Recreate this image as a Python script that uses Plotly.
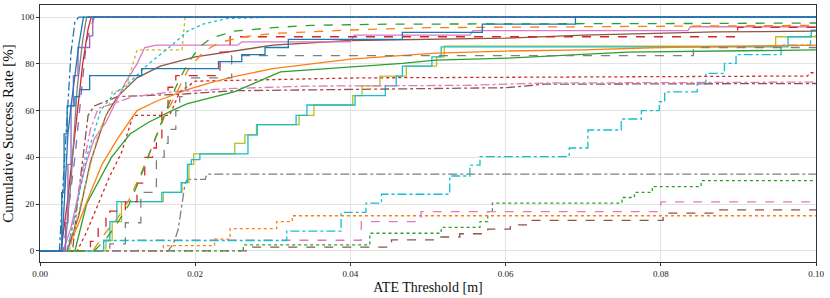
import plotly.graph_objects as go

# ---------------- data ----------------
blue_a_x = [0, 0.0028, 0.0032, 0.0036, 0.0040, 0.0045, 0.0050, 0.0056, 0.1]
blue_a_y = [0, 0, 25, 50, 62, 75, 88, 100, 100]

blue_b_x = [0, 0.0026, 0.0028, 0.0031, 0.0035, 0.0045, 0.0051, 0.0064, 0.0131, 0.023, 0.026, 0.029, 0.032, 0.0467, 0.057, 0.069, 0.1]
blue_b_y = [0, 0, 25, 50, 62, 66, 69, 75, 78, 81, 84, 87, 90.5, 93.5, 97, 100, 100]

blue_dd_x = [0, 0.0025, 0.0030, 0.0035, 0.0040, 0.0045, 0.0050, 0.1]
blue_dd_y = [0, 0, 30, 60, 85, 98, 100, 100]

purple_x = [0, 0.0030, 0.0033, 0.0036, 0.0040, 0.0043, 0.0049, 0.0064, 0.0068, 0.1]
purple_y = [0, 0, 12, 37, 62, 75, 87, 92, 100, 100]

purple_d_x = [0, 0.0030, 0.0045, 0.0060, 0.0070, 0.1]
purple_d_y = [0, 0, 40, 90, 100, 100]

gray_x = [0, 0.0032, 0.0040, 0.0048, 0.0055, 0.0060, 0.1]
gray_y = [0, 0, 30, 70, 90, 100, 100]

red_x = [0, 0.0027, 0.0035, 0.0045, 0.0055, 0.0062, 0.0066, 0.1]
red_y = [0, 0, 20, 50, 80, 95, 100, 100]

cyan_dot_x = [0, 0.0035, 0.0048, 0.0060, 0.0078, 0.0095, 0.0115, 0.0140, 0.0170, 0.0190, 0.0210, 0.0240, 0.0300, 0.1]
cyan_dot_y = [0, 0, 20, 40, 60, 67, 72, 80, 88, 94, 97, 99.4, 100, 100]

olive_dot_x = [0, 0.0038, 0.0045, 0.0060, 0.0075, 0.0088, 0.0093, 0.0110, 0.0125, 0.0183, 0.0187, 0.1]
olive_dot_y = [0, 0, 10, 30, 50, 60, 68, 69, 86, 86, 100, 100]

green_da_x = [0, 0.0070, 0.0085, 0.0100, 0.0115, 0.0130, 0.0145, 0.0160, 0.0175, 0.0190, 0.0205, 0.0220, 0.0250, 0.0300, 0.0350, 0.0450, 0.0850, 0.1]
green_da_y = [0, 0, 5, 12, 20, 32, 45, 58, 70, 80, 87, 91, 94, 95.5, 96.5, 97, 97.3, 97.5]

orange_da_x = [0, 0.0068, 0.0085, 0.0100, 0.0115, 0.0130, 0.0145, 0.0160, 0.0175, 0.0190, 0.0210, 0.0230, 0.0260, 0.0300, 0.0400, 0.0500, 0.1]
orange_da_y = [0, 0, 8, 14, 22, 33, 45, 57, 67, 77, 85, 89, 91.5, 93, 94.5, 95.5, 96.5]

red_da_x = [0, 0.0058, 0.0065, 0.0075, 0.0085, 0.0090, 0.0110, 0.0125, 0.0135, 0.0145, 0.0150, 0.0157, 0.0165, 0.0175, 0.0232, 0.0245, 0.0899, 0.1]
red_da_y = [0, 0, 4, 10, 14, 17, 21, 29, 40, 44, 48, 60, 70, 75, 85, 91.6, 95.6, 95.6]

pink_x = [0, 0.0030, 0.0040, 0.0050, 0.0060, 0.0070, 0.0085, 0.0095, 0.0110, 0.0125, 0.0135, 0.0150, 0.0255, 0.0260, 0.0400, 0.0405, 0.0554, 0.0558, 0.0835, 0.0838, 0.1]
pink_y = [0, 0, 10, 25, 38, 48, 55, 62, 72, 80, 87, 88, 88, 89.4, 89.4, 92.3, 92.3, 94.2, 94.2, 95.9, 95.9]

brown_x = [0, 0.0035, 0.0050, 0.0065, 0.0085, 0.0100, 0.0125, 0.0155, 0.0200, 0.0250, 0.0300, 0.0400, 0.0600, 0.0700, 0.0870, 0.1]
brown_y = [0, 0, 15, 38, 58, 66, 74, 79, 83, 85.5, 88, 90, 91, 92.3, 93.7, 94]

gray_da_x = [0, 0.0078, 0.0090, 0.0110, 0.0130, 0.0150, 0.0160, 0.0165, 0.0175, 0.0180, 0.0188, 0.0247, 0.0842, 0.1]
gray_da_y = [0, 0, 3, 12, 25, 40, 46, 52, 60, 66, 74, 83.5, 87, 87]

orange_x = [0, 0.0035, 0.0050, 0.0065, 0.0080, 0.0100, 0.0125, 0.0150, 0.0190, 0.0220, 0.0250, 0.0300, 0.0400, 0.0510, 0.0600, 0.0700, 0.0800, 0.1]
orange_y = [0, 0, 12, 25, 37, 48, 60, 64, 69, 72, 74.5, 78, 82, 84.6, 85.5, 86, 87, 88]

green_x = [0, 0.0045, 0.0060, 0.0092, 0.0116, 0.0140, 0.0170, 0.0190, 0.0250, 0.0310, 0.0467, 0.0510, 0.0603, 0.0757, 0.1]
green_y = [0, 0, 20, 40, 50, 55, 60, 63, 68, 76.6, 80.2, 81.6, 82.5, 85, 86]

red_dot_x = [0, 0.0048, 0.0060, 0.0075, 0.0090, 0.0105, 0.0120, 0.0167, 0.0180, 0.0200, 0.0410, 0.0989, 0.0992, 0.1]
red_dot_y = [0, 0, 8, 20, 32, 42, 58, 58, 68, 72.6, 74, 74.8, 76.2, 76.2]

pink_dd_x = [0, 0.0035, 0.0045, 0.0055, 0.0065, 0.0075, 0.0095, 0.0120, 0.0170, 0.0250, 0.0350, 0.0550, 0.0650, 0.1]
pink_dd_y = [0, 0, 15, 35, 52, 61, 63, 66, 68, 69.5, 70.5, 70.8, 71.8, 72.2]

brown_dd_x = [0, 0.0042, 0.0048, 0.0055, 0.0062, 0.0070, 0.0100, 0.0180, 0.0250, 0.0600, 0.0650, 0.1]
brown_dd_y = [0, 0, 20, 40, 58, 62, 66, 67, 68.5, 69.8, 71.3, 71.6]

cyan_x = [0, 0.0082, 0.0090, 0.0099, 0.0157, 0.0182, 0.0190, 0.0195, 0.0206, 0.0268, 0.0280, 0.0330, 0.0344, 0.0406, 0.0445, 0.0459, 0.0467, 0.0505, 0.0517, 0.0964, 0.0994, 0.1]
cyan_y = [0, 4.4, 12.5, 21, 25, 29.2, 37, 39, 41.5, 49.6, 54, 58, 62.4, 66.4, 70.6, 74.8, 79, 83, 87.3, 91.6, 94.4, 94.4]

olive_x = [0, 0.0085, 0.0093, 0.0105, 0.0159, 0.0183, 0.0192, 0.0198, 0.0251, 0.0264, 0.0279, 0.0334, 0.0353, 0.0403, 0.0415, 0.0438, 0.0472, 0.0511, 0.0521, 0.0948, 0.1]
olive_y = [0, 4.4, 12.5, 21, 25, 29.2, 37, 41.5, 46, 49.6, 54, 58, 62.4, 66.4, 70.6, 74.8, 79, 83, 87.6, 91.6, 91.6]

gray_dd_x = [0, 0.0165, 0.0172, 0.0178, 0.0183, 0.0187, 0.0190, 0.0213, 0.0215, 0.1]
gray_dd_y = [0, 0, 3, 9, 20, 29, 30.6, 30.6, 32.8, 32.8]

cyan_dd_x = [0, 0.0082, 0.0318, 0.0388, 0.0420, 0.0440, 0.0528, 0.0554, 0.0567, 0.0682, 0.0706, 0.0749, 0.0775, 0.0798, 0.0805, 0.0847, 0.0858, 0.0882, 0.0897, 0.0955, 0.0993, 0.1]
cyan_dd_y = [0, 4.4, 8.4, 16.4, 20.4, 24.2, 32, 36.7, 40.3, 44, 51.7, 56.4, 60, 63.8, 68, 71.4, 75.9, 80.2, 84, 88, 92, 92]

pink_da_x = [0, 0.0126, 0.0414, 0.0491, 0.0800, 0.1]
pink_da_y = [0, 4.5, 12.5, 16.8, 20.9, 20.9]

orange_dot_x = [0, 0.0159, 0.0225, 0.0245, 0.0305, 0.0325, 0.1]
orange_dot_y = [0, 2.2, 5, 9.5, 12.5, 15, 15]

green_dot_x = [0, 0.0262, 0.0425, 0.0517, 0.0567, 0.0577, 0.0583, 0.0750, 0.0766, 0.0789, 0.0852, 0.1]
green_dot_y = [0, 2.5, 7.5, 10, 12.5, 16.8, 20.4, 22.8, 25, 27.5, 30, 30]

brown_da_x = [0, 0.0274, 0.0453, 0.0515, 0.0541, 0.0577, 0.0606, 0.0631, 0.0803, 0.0870, 0.1]
brown_da_y = [0, 1.6, 4.7, 5.9, 7.3, 9.3, 11.1, 13, 16.1, 17.5, 17.5]

x_ticks = [0.00, 0.02, 0.04, 0.06, 0.08, 0.10]
x_tick_text = ["0.00", "0.02", "0.04", "0.06", "0.08", "0.10"]
y_ticks = [0, 20, 40, 60, 80, 100]

# ---------------- styling ----------------
C = {"blue": "#1f77b4", "orange": "#ff7f0e", "green": "#2ca02c", "red": "#d62728",
     "purple": "#9467bd", "brown": "#8c564b", "pink": "#e377c2", "gray": "#7f7f7f",
     "olive": "#bcbd22", "cyan": "#17becf"}

series = [
    (brown_da_x, brown_da_y, "brown", "dash", "hv"),
    (green_dot_x, green_dot_y, "green", "dot", "hv"),
    (orange_dot_x, orange_dot_y, "orange", "dot", "hv"),
    (pink_da_x, pink_da_y, "pink", "dash", "hv"),
    (cyan_dd_x, cyan_dd_y, "cyan", "dashdot", "hv"),
    (gray_dd_x, gray_dd_y, "gray", "dashdot", "linear"),
    (olive_x, olive_y, "olive", "solid", "hv"),
    (cyan_x, cyan_y, "cyan", "solid", "hv"),
    (brown_dd_x, brown_dd_y, "brown", "dashdot", "linear"),
    (pink_dd_x, pink_dd_y, "pink", "dashdot", "linear"),
    (red_dot_x, red_dot_y, "red", "dot", "linear"),
    (green_x, green_y, "green", "solid", "linear"),
    (orange_x, orange_y, "orange", "solid", "linear"),
    (gray_da_x, gray_da_y, "gray", "dash", "hv"),
    (brown_x, brown_y, "brown", "solid", "linear"),
    (pink_x, pink_y, "pink", "solid", "linear"),
    (red_da_x, red_da_y, "red", "dash", "hv"),
    (orange_da_x, orange_da_y, "orange", "dash", "linear"),
    (green_da_x, green_da_y, "green", "dash", "linear"),
    (olive_dot_x, olive_dot_y, "olive", "dot", "linear"),
    (cyan_dot_x, cyan_dot_y, "cyan", "dot", "linear"),
    (purple_d_x, purple_d_y, "purple", "dash", "linear"),
    (red_x, red_y, "red", "solid", "linear"),
    (gray_x, gray_y, "gray", "solid", "linear"),
    (purple_x, purple_y, "purple", "solid", "hv"),
    (blue_dd_x, blue_dd_y, "blue", "dashdot", "linear"),
    (blue_b_x, blue_b_y, "blue", "solid", "hv"),
    (blue_a_x, blue_a_y, "blue", "solid", "linear"),
]

fig = go.Figure()
for xs, ys, col, dash, shape in series:
    fig.add_trace(go.Scatter(x=xs, y=ys, mode="lines", line_shape=shape,
                             line=dict(color=C[col], width=1.3, dash=dash),
                             showlegend=False, hoverinfo="skip"))

serif = "Liberation Serif, Times New Roman, serif"
axis_common = dict(showline=True, linecolor="#333333", linewidth=1, mirror=True,
                   showgrid=True, gridcolor="#e3e3e3", gridwidth=0.8, automargin=False,
                   ticks="outside", ticklen=3, tickcolor="#333333", zeroline=False,
                   tickfont=dict(family=serif, size=9, color="#222"))

fig.update_xaxes(range=[0, 0.1], tickvals=x_ticks, ticktext=x_tick_text,
                 title=dict(text="ATE Threshold [m]", standoff=4,
                            font=dict(family=serif, size=14, color="#111")),
                 **axis_common)
fig.update_yaxes(range=[-4.8, 105.2], tickvals=y_ticks,
                 title=dict(text="Cumulative Success Rate [%]", standoff=4,
                            font=dict(family=serif, size=15, color="#111")),
                 **axis_common)

fig.update_layout(width=830, height=298, margin=dict(l=40, r=14, t=5, b=36),
                  plot_bgcolor="white", paper_bgcolor="white")

fig.write_html("out.html", config={"displayModeBar": False},
               post_script="document.body.style.margin='0';document.body.style.padding='0';")
